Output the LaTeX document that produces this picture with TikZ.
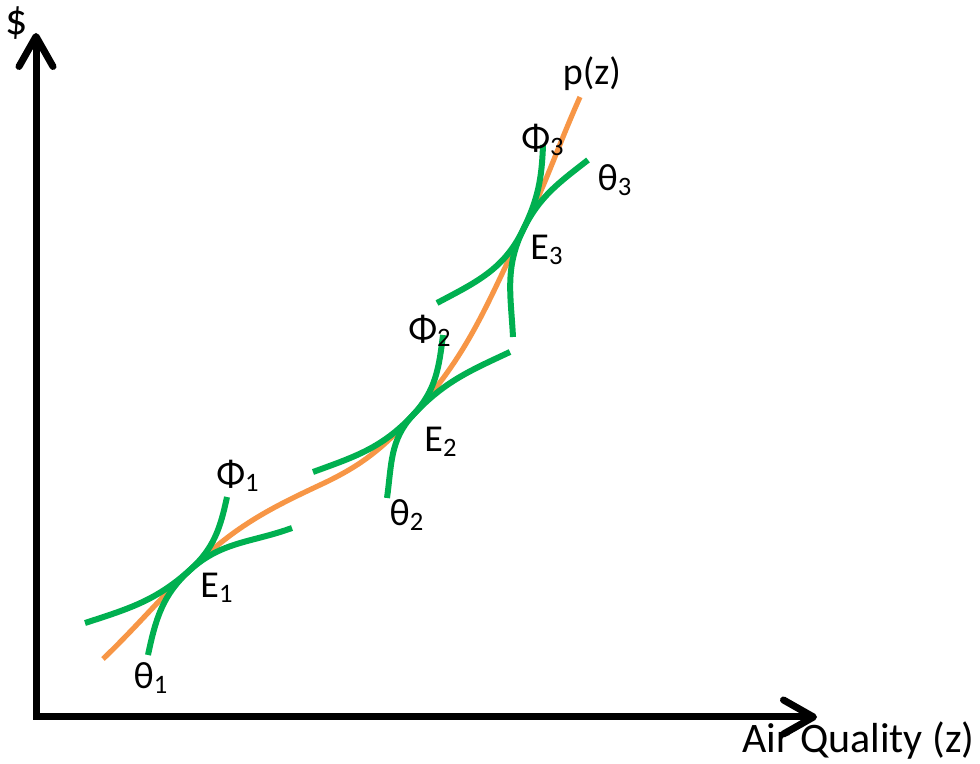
\documentclass[tikz,border=0pt]{standalone}
\usepackage{fontspec}
\setmainfont{Carlito}
\usepackage{xcolor}
\usepackage{tikz}
\usetikzlibrary{arrows.meta}
\definecolor{bidgreen}{RGB}{0,176,80}
\definecolor{hedorange}{RGB}{247,150,70}

\tikzset{
  axis/.style={line width=3.5pt, line join=miter,
    {Straight Barb[length=15pt,width=17pt,line cap=round,line join=round]}-{Straight Barb[length=15pt,width=17pt,line cap=round,line join=round]}},
  bid/.style={line width=3pt, color=bidgreen},
  hedonic/.style={line width=2.6pt, color=hedorange},
  lbl/.style={inner sep=0pt, font=\fontsize{19}{21}\selectfont}
}

\begin{document}
\begin{tikzpicture}[x=0.5pt, y=0.5pt]
\useasboundingbox (0,0) rectangle (980,764);
% axes
\coordinate (ytop) at (36,731);
\coordinate (origin) at (36,47);
\coordinate (xend) at (817,47);
\draw[axis] (ytop) -- (origin) -- (xend);
\node[lbl, font=\fontsize{22}{24}\selectfont] (dollar) at (17,741) {\$};
\node[lbl, anchor=base east, font=\fontsize{21}{23}\selectfont] (zlabel) at (975,11) {Air Quality (z)};

% tangency points
\coordinate (E1) at (190,194);
\coordinate (E2) at (413,349);
\coordinate (E3) at (523,534);

% hedonic price function
\draw[hedonic] (103,105) to[out=44,in=224] (E1) to[out=44,in=205] (320,279)
  to[out=25,in=228] (E2) to[out=48,in=244] (E3) to[out=64,in=246] (580,667);

% bid curves
\draw[bid] (85,141) to[out=18,in=222] (E1) to[out=42,in=258] (227,267);
\draw[bid] (313,292) to[out=20,in=227] (E2) to[out=47,in=263] (443,429);
\draw[bid] (437,461) to[out=28,in=244] (E3) to[out=64,in=268] (543,619);

% offer curves
\draw[bid] (148,109) to[out=78,in=222] (E1) to[out=42,in=200] (292,236);
\draw[bid] (387,266) to[out=82,in=227] (E2) to[out=47,in=205] (510,412);
\draw[bid] (513,427) to[out=93,in=244] (E3) to[out=64,in=218] (588,604);

% labels
\node[lbl] (phi1) at (238,288) {Φ\textsubscript{1}};
\node[lbl] (e1) at (217,176) {E\textsubscript{1}};
\node[lbl] (theta1) at (151,86) {θ\textsubscript{1}};
\node[lbl] (phi2) at (430,433) {Φ\textsubscript{2}};
\node[lbl] (e2) at (441,322) {E\textsubscript{2}};
\node[lbl] (theta2) at (407,249) {θ\textsubscript{2}};
\node[lbl] (phi3) at (543,624) {Φ\textsubscript{3}};
\node[lbl] (e3) at (547,514) {E\textsubscript{3}};
\node[lbl] (theta3) at (615,584) {θ\textsubscript{3}};
\node[lbl] (pz) at (592,690) {p(z)};
\end{tikzpicture}
\end{document}
